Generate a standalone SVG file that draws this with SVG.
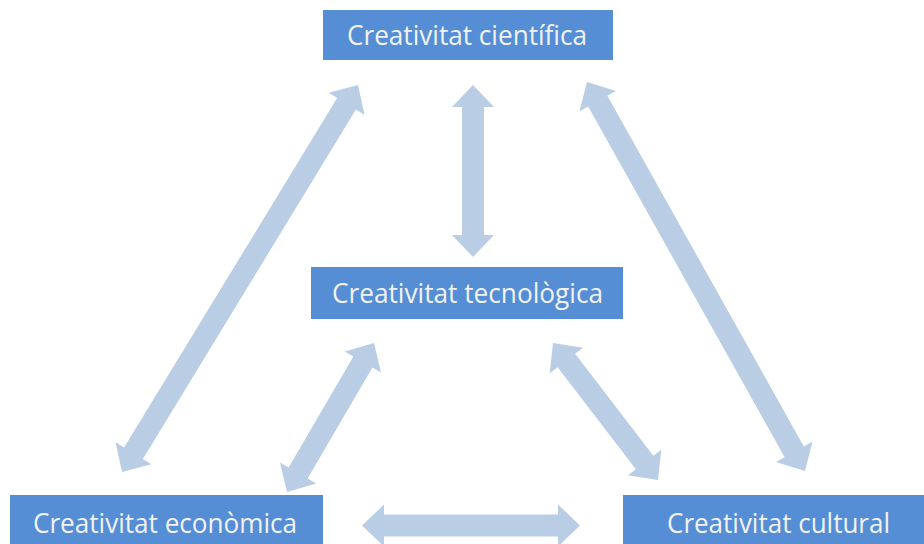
<svg xmlns="http://www.w3.org/2000/svg" width="924" height="544" viewBox="0 0 924 544">
<style>
.box{fill:#558ED5}
.lbl{fill:#F2F2F2;font-family:"Open Sans","Liberation Sans",Arial,sans-serif;font-size:28px}
.arr{fill:#B9CDE5}
</style>
<rect width="924" height="544" fill="#FFFFFF"/>
<g id="connectors">
<polygon class="arr" transform="translate(473,85) rotate(90)" points="0,0 22,-21 22,-11 150,-11 150,-21 172,0 150,21 150,11 22,11 22,21"/>
<polygon class="arr" transform="translate(358,85) rotate(121.37)" points="0,0 22,-21 22,-11 431.3,-11 431.3,-21 453.3,0 431.3,21 431.3,11 22,11 22,21"/>
<polygon class="arr" transform="translate(587,82) rotate(60.73)" points="0,0 22,-21 22,-11 423.9,-11 423.9,-21 445.9,0 423.9,21 423.9,11 22,11 22,21"/>
<polygon class="arr" transform="translate(374,343) rotate(120.28)" points="0,0 22,-21 22,-11 150.5,-11 150.5,-21 172.5,0 150.5,21 150.5,11 22,11 22,21"/>
<polygon class="arr" transform="translate(553,343) rotate(52.53)" points="0,0 22,-21 22,-11 150.6,-11 150.6,-21 172.6,0 150.6,21 150.6,11 22,11 22,21"/>
<polygon class="arr" transform="translate(362,525.5)" points="0,0 22,-21 22,-11 196,-11 196,-21 218,0 196,21 196,11 22,11 22,21"/>
</g>
<g id="cientifica">
<rect class="box" x="323" y="10" width="290" height="50"/>
<text class="lbl" x="347" y="45" textLength="240" lengthAdjust="spacingAndGlyphs">Creativitat científica</text>
</g>
<g id="tecnologica">
<rect class="box" x="311" y="267" width="312" height="52"/>
<text class="lbl" x="332" y="303" textLength="271" lengthAdjust="spacingAndGlyphs">Creativitat tecnològica</text>
</g>
<g id="economica">
<rect class="box" x="10" y="495" width="313" height="55"/>
<text class="lbl" x="33" y="533" textLength="264" lengthAdjust="spacingAndGlyphs">Creativitat econòmica</text>
</g>
<g id="cultural">
<rect class="box" x="623" y="495" width="310" height="55"/>
<text class="lbl" x="667" y="533" textLength="223" lengthAdjust="spacingAndGlyphs">Creativitat cultural</text>
</g>
</svg>
